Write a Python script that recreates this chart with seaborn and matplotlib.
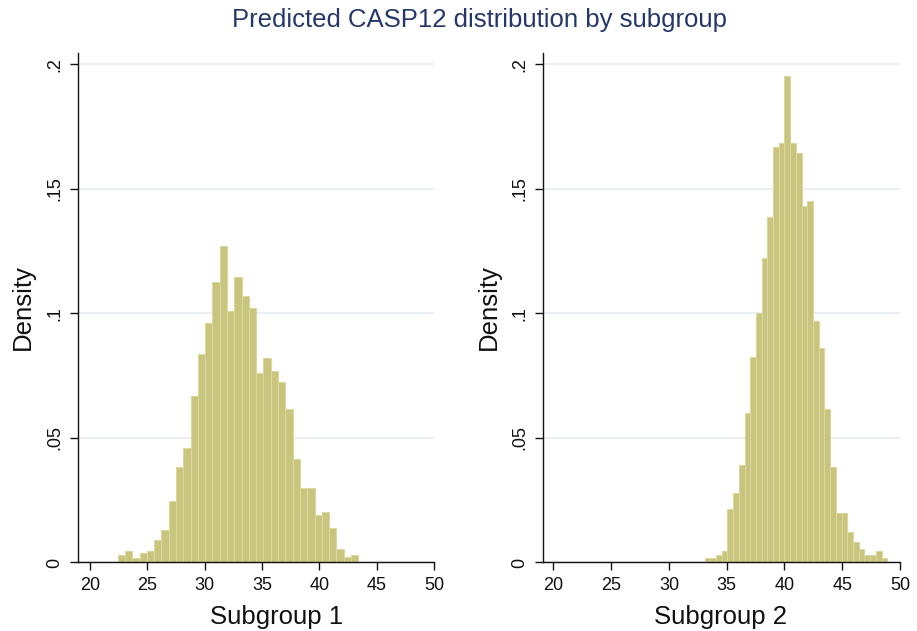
import numpy as np
import pandas as pd
import matplotlib
matplotlib.use("Agg")
import matplotlib.pyplot as plt
import seaborn as sns

# histogram bins (density per bin)
sub1_range = (22.42, 43.40)
sub1_density = [0.0029, 0.0046, 0.0016, 0.0038, 0.0046, 0.0091, 0.0130, 0.0245,
                0.0384, 0.0460, 0.0668, 0.0837, 0.0960, 0.1128, 0.1269, 0.1008,
                0.1145, 0.1068, 0.1022, 0.0760, 0.0822, 0.0769, 0.0723, 0.0615,
                0.0414, 0.0299, 0.0299, 0.0191, 0.0201, 0.0138, 0.0054, 0.0020,
                0.0029]

sub2_range = (33.08, 48.90)
sub2_density = [0.0016, 0.0016, 0.0029, 0.0046, 0.0214, 0.0277, 0.0392, 0.0600,
                0.0823, 0.1000, 0.1222, 0.1386, 0.1669, 0.1686, 0.1953, 0.1686,
                0.1645, 0.1431, 0.1453, 0.0969, 0.0861, 0.0616, 0.0384, 0.0198,
                0.0198, 0.0121, 0.0084, 0.0053, 0.0029, 0.0029, 0.0046, 0.0016]

x_ticks = [20, 25, 30, 35, 40, 45, 50]
y_ticks = [0, 0.05, 0.1, 0.15, 0.2]
y_tick_labels = ["0", ".05", ".1", ".15", ".2"]
panel_names = ["Subgroup 1", "Subgroup 2"]
title = "Predicted CASP12 distribution by subgroup"

BAR = "#c9c47e"
EDGE = "#dad79f"
GRID = "#e8eff1"

sns.set_style("white")
plt.rcParams["font.family"] = ["Liberation Sans", "DejaVu Sans"]


def draw_panel(ax, bin_range, density, name, xmin, label_x):
    n = len(density)
    step = (bin_range[1] - bin_range[0]) / n
    df = pd.DataFrame({
        "value": bin_range[0] + step * (np.arange(n) + 0.5),
        "density": density,
    })
    sns.histplot(data=df, x="value", weights="density", bins=n,
                 binrange=bin_range, stat="count", ax=ax,
                 color=BAR, edgecolor=EDGE, linewidth=0.8, alpha=1)
    ax.set_xlim(xmin, 50)
    ax.set_ylim(0, 0.2047)
    ax.set_xticks(x_ticks)
    ax.set_xticklabels([str(t) for t in x_ticks])
    ax.set_yticks(y_ticks)
    ax.set_yticklabels(y_tick_labels, rotation=90, va="center")
    ax.yaxis.grid(True, color=GRID, linewidth=1.3)
    ax.set_axisbelow(True)
    for side in ["top", "right"]:
        ax.spines[side].set_visible(False)
    for side in ["left", "bottom"]:
        ax.spines[side].set_color("#111111")
        ax.spines[side].set_linewidth(1.0)
    ax.tick_params(axis="both", direction="out", length=5.5, width=1.0,
                   color="#111111", labelsize=13, labelcolor="#111111",
                   bottom=True, left=True)
    ax.tick_params(axis="y", pad=5)
    ax.tick_params(axis="x", pad=5)
    ax.set_xlabel(name, fontsize=18.5, color="#111111", labelpad=8)
    ax.set_ylabel("Density", fontsize=18.5, color="#111111", labelpad=8)
    ax.xaxis.label.set_x(label_x)


fig = plt.figure(figsize=(9.17, 6.31), dpi=100)
ax1 = fig.add_axes([0.0847, 0.1086, 0.3885, 0.808])
ax2 = fig.add_axes([0.5925, 0.1086, 0.389, 0.808])

draw_panel(ax1, sub1_range, sub1_density, panel_names[0], 18.93, 0.557)
draw_panel(ax2, sub2_range, sub2_density, panel_names[1], 19.13, 0.498)

fig.text(0.523, 1 - 27 / 631, title, ha="center", va="baseline",
         fontsize=18.5, color="#26386a")

fig.savefig("out.png", dpi=100, facecolor="white")
